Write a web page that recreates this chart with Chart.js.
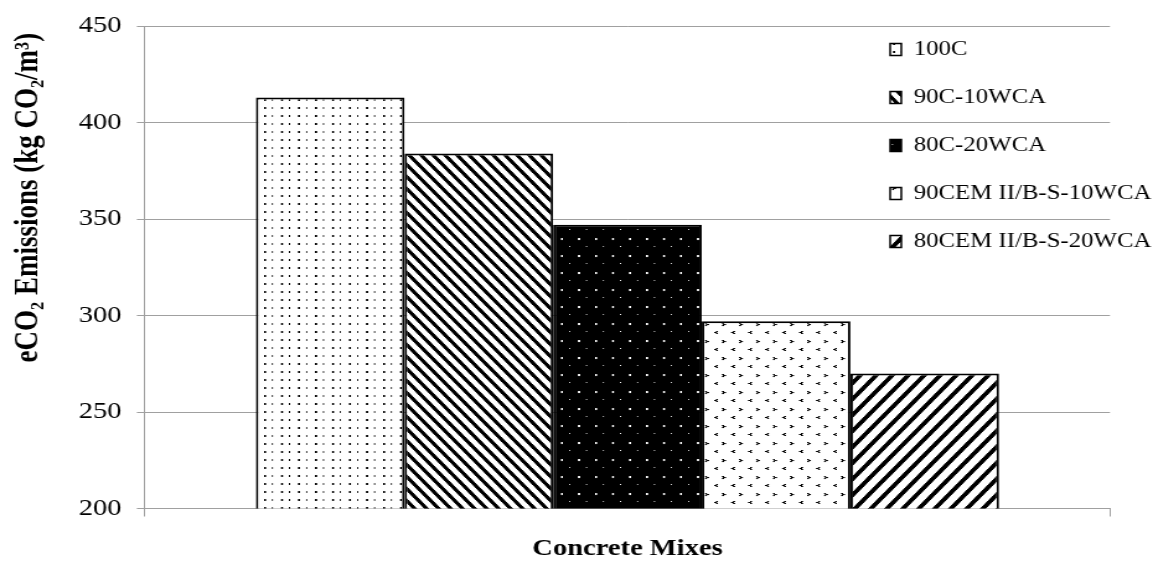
<!DOCTYPE html>
<html>
<head>
<meta charset="utf-8">
<script src="https://cdn.jsdelivr.net/npm/chart.js@4.4.1/dist/chart.umd.min.js"></script>
<style>
  html, body { margin: 0; padding: 0; background: #fff; overflow: hidden; }
  /* the source figure is stretched sideways, so the canvas is too */
  #chart { display: block; transform: scaleX(1.2398); transform-origin: 0 0; }
</style>
</head>
<body>
<canvas id="chart" width="934" height="563"></canvas>
<script>
const categories = [""];
const mixes = ["100C", "90C-10WCA", "80C-20WCA", "90CEM II/B-S-10WCA", "80CEM II/B-S-20WCA"];
const emissions = [413, 384, 347, 297, 270];
const yTicks = [200, 250, 300, 350, 400, 450];

const stretch = 1158 / 934;
const serif = "'Liberation Serif', 'Times New Roman', serif";
const ctx = document.getElementById("chart").getContext("2d");

// tiles are painted in screen pixels, then squeezed back so the css stretch undoes it
function makePattern(w, h, bg, fg, paint) {
  const c = document.createElement("canvas");
  c.width = w;
  c.height = h;
  const g = c.getContext("2d");
  g.fillStyle = bg;
  g.fillRect(0, 0, w, h);
  g.fillStyle = fg;
  paint(g);
  const p = ctx.createPattern(c, "repeat");
  p.setTransform(new DOMMatrix([1 / stretch, 0, 0, 1, 0, 0]));
  return p;
}

const dots = makePattern(17, 8, "#fff", "#000", (g) => {
  g.fillRect(9, 3, 2, 2);
  g.fillRect(0, 3, 1, 2);
});
const downStripes = makePattern(12, 12, "#fff", "#000", (g) => {
  for (let y = 0; y < 12; y++)
    for (let x = 0; x < 12; x++)
      if ((x - y + 24) % 12 < 5) g.fillRect(x, y, 1, 1);
});
const blackDots = makePattern(17, 17, "#000", "#fff", (g) => {
  g.fillRect(0, 0, 2, 2);
  g.fillRect(8, 8, 1, 1);
});
const chevrons = makePattern(17, 17, "#fff", "#000", (g) => {
  [[8, 0], [9, 0], [9, 1], [10, 1], [11, 1], [8, 2], [9, 2]].forEach(([x, y]) => g.fillRect(x, y, 1, 1));
  [[2, 8], [3, 8], [0, 9], [1, 9], [2, 9], [2, 10], [3, 10]].forEach(([x, y]) => g.fillRect(x, y, 1, 1));
});
const upStripes = makePattern(16, 16, "#fff", "#000", (g) => {
  for (let y = 0; y < 16; y++)
    for (let x = 0; x < 16; x++)
      if ((x + y) % 16 < 6) g.fillRect(x, y, 1, 1);
});
const fills = [dots, downStripes, blackDots, chevrons, upStripes];

const datasets = mixes.map((name, i) => ({
  label: name,
  data: [emissions[i]],
  backgroundColor: fills[i],
  borderColor: "#000",
  borderWidth: 2,
  borderSkipped: false,
  categoryPercentage: 0.77,
  barPercentage: 1,
}));

// legend sits inside the plot, top right
const legendSpot = {
  id: "legendSpot",
  afterLayout(chart) {
    const lg = chart.legend;
    lg.left = 690;
    lg.right = 690 + lg.width;
    lg.top = 11.5;
    lg.bottom = 563;
  },
};

new Chart(ctx, {
  type: "bar",
  data: { labels: categories, datasets: datasets },
  options: {
    responsive: false,
    animation: false,
    layout: { padding: { top: 22, right: 38.7, bottom: 0, left: 0 } },
    plugins: {
      tooltip: { enabled: false },
      legend: {
        position: "chartArea",
        align: "start",
        labels: {
          color: "#000",
          font: { family: serif, size: 20 },
          boxWidth: 9,
          boxHeight: 12,
          padding: 28,
          generateLabels(chart) {
            return Chart.defaults.plugins.legend.labels
              .generateLabels(chart)
              .map((l) => ({ ...l, lineWidth: 1.5 }));
          },
        },
      },
    },
    scales: {
      x: {
        grid: { drawOnChartArea: false, drawTicks: true, tickLength: 8, color: "#a0a0a0", offset: true },
        border: { color: "#a0a0a0" },
        ticks: { display: false },
        title: {
          display: true,
          text: "Concrete Mixes",
          color: "#000",
          font: { family: serif, size: 23, weight: "bold" },
          padding: { top: 0, bottom: 0 },
        },
        afterFit(s) { s.height = 54.5; },
      },
      y: {
        min: yTicks[0],
        max: yTicks[yTicks.length - 1],
        afterBuildTicks(s) { s.ticks = yTicks.map((v) => ({ value: v })); },
        ticks: { color: "#000", padding: 12.3, font: { family: serif, size: 23 } },
        grid: { color: "#a0a0a0", tickLength: 6.5 },
        border: { color: "#a0a0a0" },
        title: {
          display: true,
          text: "eCO\u2082 Emissions (kg CO\u2082/m\u00b3) ",
          align: "end",
          color: "#000",
          font: { family: serif, size: 27, weight: "bold" },
          padding: { top: 6.4, bottom: 0 },
        },
        afterFit(s) { s.width = 116.9; },
      },
    },
  },
  plugins: [legendSpot],
});
</script>
</body>
</html>
